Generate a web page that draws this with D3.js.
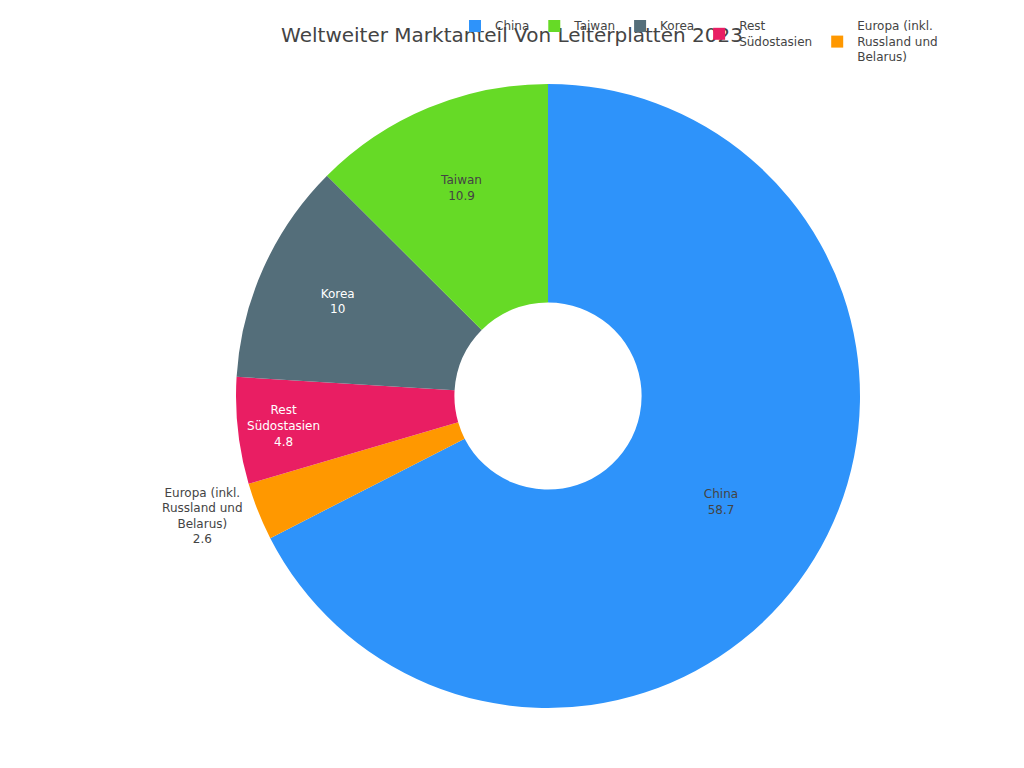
<!DOCTYPE html>
<html>
<head>
<meta charset="utf-8">
<script src="https://cdn.jsdelivr.net/npm/d3@7/dist/d3.min.js"></script>
<style>
  html, body { margin: 0; padding: 0; background: #fff; }
  svg { display: block; font-family: "DejaVu Sans", sans-serif; }
</style>
</head>
<body>
<svg id="chart" width="1024" height="768"></svg>
<script>
// ---- data ----
const categories = ["China", "Europa (inkl.<br>Russland und<br>Belarus)", "Rest<br>Südostasien", "Korea", "Taiwan"];
const values = [58.7, 2.6, 4.8, 10, 10.9];
const colors = ["#2E93fA", "#FF9800", "#E91E63", "#546E7A", "#66DA26"];
const legendOrder = ["China", "Taiwan", "Korea", "Rest<br>Südostasien", "Europa (inkl.<br>Russland und<br>Belarus)"];
const titleText = "Weltweiter Marktanteil Von Leiterplatten 2023";

// ---- layout ----
const W = 1024, H = 768;
const cx = 548, cy = 396, R = 312, hole = 0.3;
const fontSize = 12, lineH = fontSize * 1.3;
const svg = d3.select("#chart");

const data = categories.map((c, i) => ({ name: c, value: values[i], color: colors[i] }));

const pie = d3.pie().value(d => d.value).sort(null).startAngle(0).endAngle(2 * Math.PI);
const arcs = pie(data);
const arc = d3.arc().innerRadius(R * hole).outerRadius(R);

const g = svg.append("g").attr("transform", `translate(${cx},${cy})`);
g.selectAll("path.slice").data(arcs).join("path")
  .attr("class", "slice")
  .attr("d", arc)
  .attr("fill", d => d.data.color);

// contrast colour (like plotly)
function textColorFor(fill) {
  const c = d3.rgb(fill);
  const lum = (0.299 * c.r + 0.587 * c.g + 0.114 * c.b) / 255;
  return lum > 0.5 ? "#444" : "#fff";
}

// measure helper
const meas = svg.append("text").attr("font-size", fontSize).attr("visibility", "hidden");
function textWidth(s) { meas.text(s); return meas.node().getComputedTextLength(); }

const labelG = svg.append("g");
arcs.forEach(a => {
  const lines = a.data.name.split("<br>").concat([String(a.data.value)]);
  const tw = d3.max(lines, textWidth);
  const th = lines.length * lineH;
  const half = (a.endAngle - a.startAngle) / 2;
  const mid = (a.startAngle + a.endAngle) / 2;
  const ring = 1 - hole;
  const rIns = Math.min(1 / (1 + 1 / Math.sin(Math.min(half, Math.PI / 2))), ring / 2);
  const diam = Math.sqrt(tw * tw + th * th);
  const scale = rIns * R * 2 / diam;
  let x, y, fill;
  if (scale >= 1) {
    const rc = (1 - rIns) * R;
    x = cx + rc * Math.sin(mid);
    y = cy - rc * Math.cos(mid);
    fill = textColorFor(a.data.color);
  } else {
    const px = R * Math.sin(mid), py = -R * Math.cos(mid);
    let dx = tw / 2, dy = th / 2;
    if (px < 0) dx *= -1;
    if (py < 0) dy *= -1;
    x = cx + px + dx + Math.abs(dy) * (dx > 0 ? 1 : -1) / 2;
    y = cy + py + dy / (1 + px * px / (py * py));
    fill = "#444";
  }
  const t = labelG.append("text")
    .attr("font-size", fontSize)
    .attr("fill", fill)
    .attr("text-anchor", "middle");
  const top = y - th / 2;
  lines.forEach((ln, i) => {
    t.append("tspan").attr("x", x).attr("y", top + i * lineH + lineH / 2).attr("dy", "0.35em").text(ln);
  });
});

// title
svg.append("text")
  .attr("x", W / 2).attr("y", 42)
  .attr("text-anchor", "middle")
  .attr("font-size", 20)
  .attr("fill", "#444")
  .text(titleText);

// legend
const legG = svg.append("g");
let lx = 455;
const legTop = 26;
legendOrder.forEach(name => {
  const d = data.find(e => e.name === name);
  const lines = name.split("<br>");
  const tw = d3.max(lines, textWidth);
  const centerY = legTop + (lines.length - 1) * lineH / 2;
  legG.append("rect")
    .attr("x", lx + 14).attr("y", centerY - 6)
    .attr("width", 12).attr("height", 12)
    .attr("fill", d.color);
  const t = legG.append("text").attr("font-size", fontSize).attr("fill", "#444");
  lines.forEach((ln, i) => {
    t.append("tspan").attr("x", lx + 40).attr("y", legTop + i * lineH).attr("dy", "0.35em").text(ln);
  });
  lx += 40 + tw + 5;
});
meas.remove();
</script>
</body>
</html>
